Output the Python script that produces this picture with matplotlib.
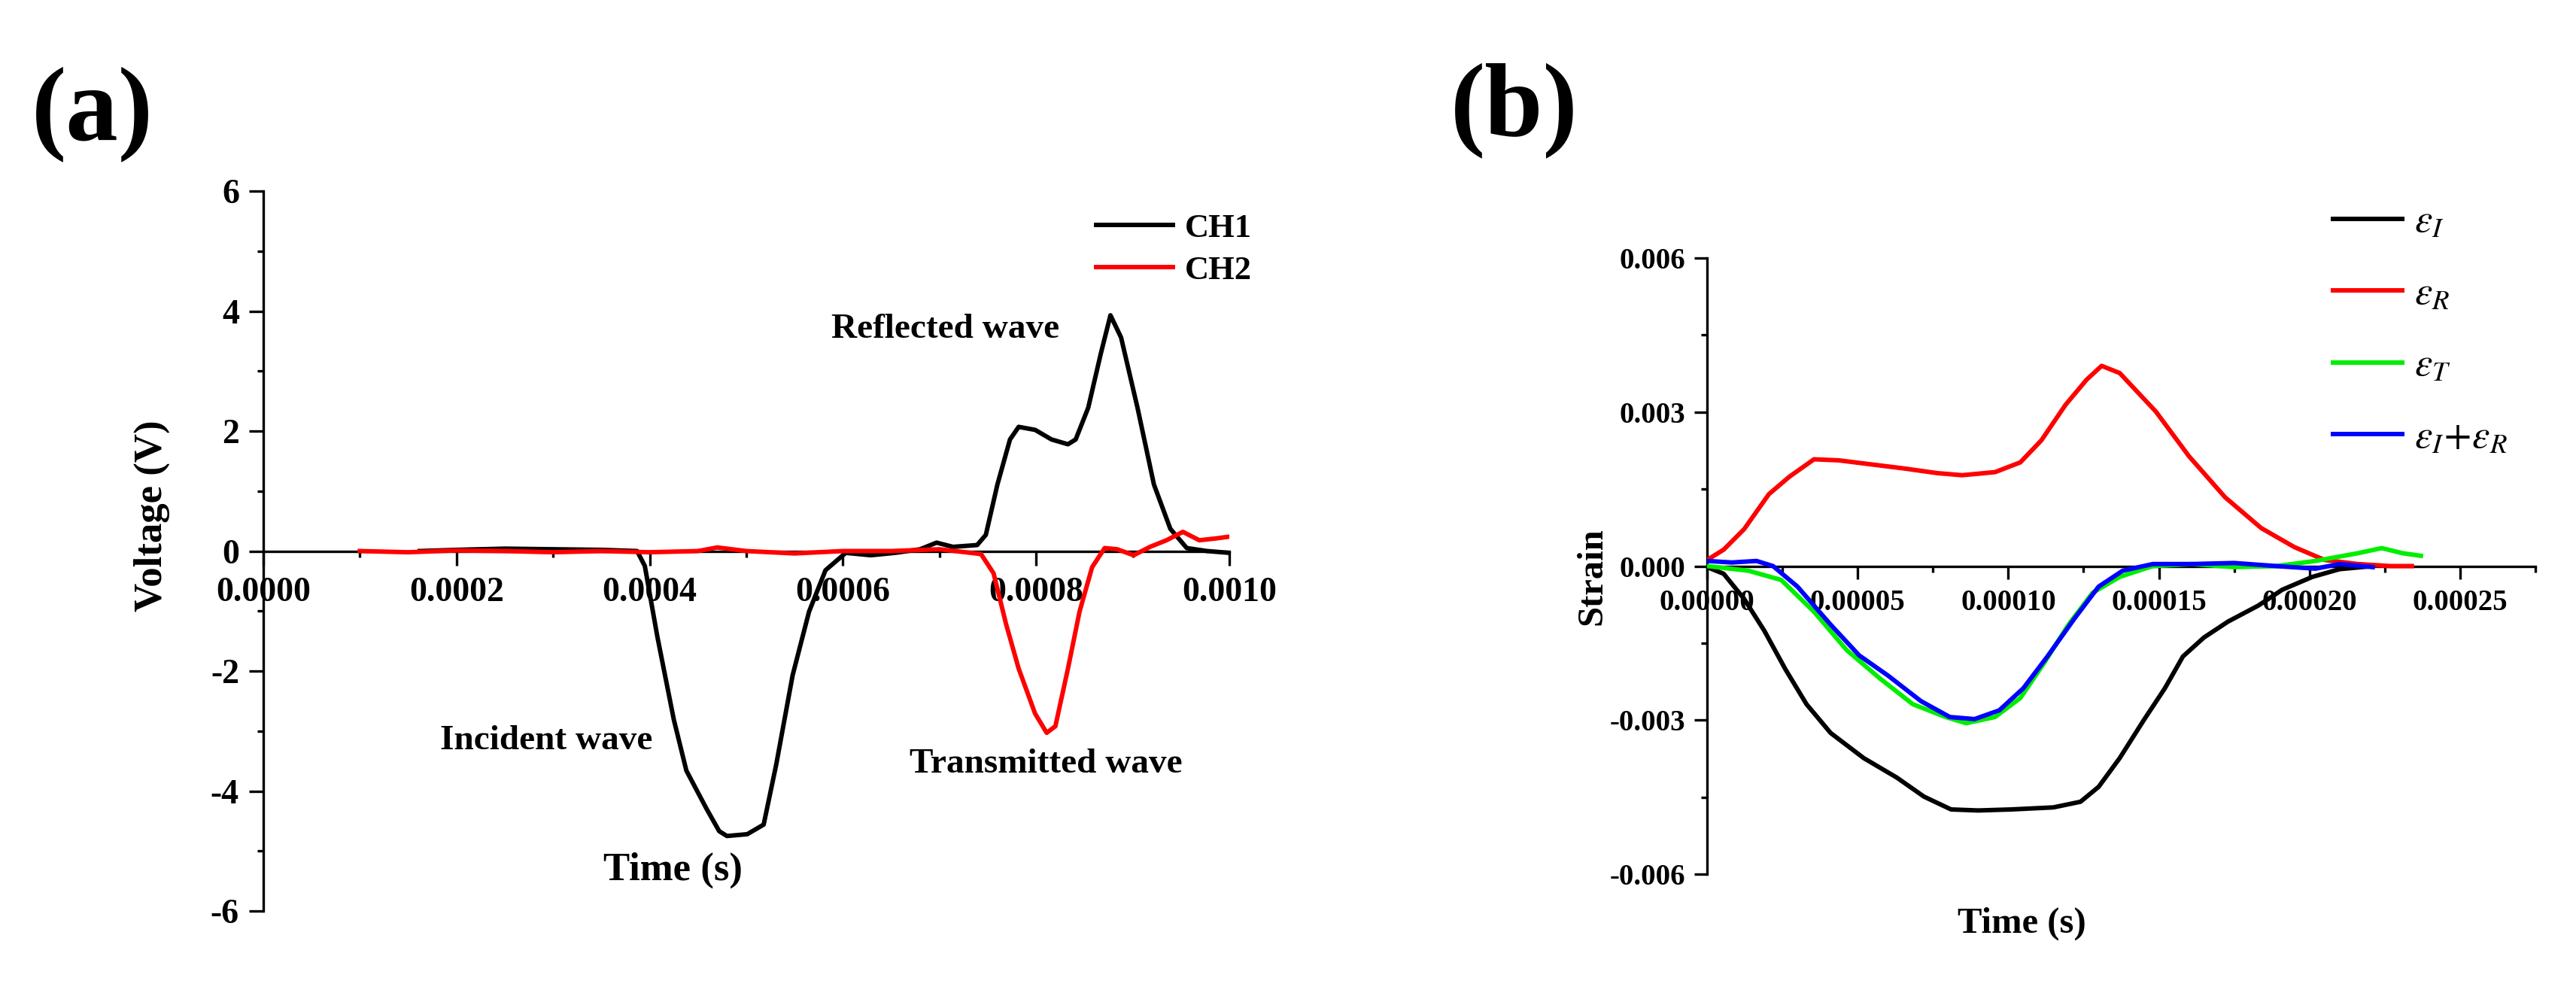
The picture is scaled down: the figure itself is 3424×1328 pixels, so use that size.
import numpy as np
import matplotlib
matplotlib.use('Agg')
import matplotlib.pyplot as plt
from matplotlib.ticker import MultipleLocator, FormatStrFormatter

# Panel (a): oscilloscope voltages
ch1_t = [0.000162, 0.00020, 0.00025, 0.00030, 0.00035, 0.000387, 0.000395, 0.000408, 0.000425,
         0.000438, 0.000459, 0.000472, 0.00048, 0.000501, 0.000518, 0.000531, 0.000548, 0.000565,
         0.000582, 0.000603, 0.000629, 0.000654, 0.00068, 0.000697, 0.000714, 0.000739, 0.000748,
         0.00076, 0.000773, 0.000782, 0.000799, 0.000816, 0.000833, 0.000841, 0.000854, 0.000867,
         0.000877, 0.000888, 0.000905, 0.000922, 0.000939, 0.000956, 0.000977, 0.001]
ch1_v = [0.0, 0.02, 0.04, 0.03, 0.02, 0.0, -0.25, -1.43, -2.81,
         -3.66, -4.30, -4.67, -4.75, -4.72, -4.56, -3.56, -2.07, -1.01,
         -0.32, -0.03, -0.07, -0.03, 0.03, 0.14, 0.07, 0.10, 0.27,
         1.11, 1.86, 2.07, 2.02, 1.86, 1.78, 1.86, 2.39, 3.29,
         3.93, 3.56, 2.39, 1.11, 0.37, 0.05, 0.0, -0.03]
ch2_t = [0.0001, 0.00015, 0.0002, 0.00025, 0.0003, 0.00035, 0.0004, 0.00045, 0.00047, 0.0005,
         0.00055, 0.0006, 0.00065, 0.0007, 0.000743, 0.000756, 0.000769, 0.000782, 0.000799,
         0.000811, 0.00082, 0.000833, 0.000845, 0.000858, 0.000871, 0.000884, 0.000901,
         0.000918, 0.000935, 0.000952, 0.000969, 0.000986, 0.001]
ch2_v = [0.0, -0.02, 0.01, 0.0, -0.02, 0.0, -0.02, 0.0, 0.06, 0.0,
         -0.04, 0.0, 0.0, 0.03, -0.05, -0.37, -1.22, -1.96, -2.71,
         -3.03, -2.92, -1.96, -1.01, -0.27, 0.05, 0.03, -0.07,
         0.07, 0.18, 0.32, 0.18, 0.21, 0.24]

# Panel (b): strain histories
epsI_t = [0, 5.5e-6, 1.23e-5, 1.9e-5, 2.6e-5, 3.3e-5, 4.1e-5, 5.2e-5, 6.3e-5, 7.2e-5, 8.1e-5,
          9.0e-5, 1.01e-4, 1.15e-4, 1.24e-4, 1.30e-4, 1.37e-4, 1.45e-4, 1.52e-4, 1.58e-4,
          1.65e-4, 1.73e-4, 1.83e-4, 1.91e-4, 2.01e-4, 2.10e-4, 2.21e-4]
epsI_v = [-0.00002, -0.00015, -0.00064, -0.00126, -0.00201, -0.00269, -0.00325, -0.00374,
          -0.00412, -0.00449, -0.00474, -0.00476, -0.00474, -0.0047, -0.00459, -0.0043,
          -0.00374, -0.003, -0.00238, -0.00176, -0.00139, -0.00108, -0.00077, -0.00046,
          -0.00021, -0.00006, 0.0]
epsR_t = [0, 5.5e-6, 1.23e-5, 2.05e-5, 2.73e-5, 3.55e-5, 4.37e-5, 5.46e-5, 6.56e-5, 7.65e-5,
          8.47e-5, 9.56e-5, 1.04e-4, 1.11e-4, 1.19e-4, 1.26e-4, 1.31e-4, 1.37e-4, 1.49e-4,
          1.60e-4, 1.72e-4, 1.84e-4, 1.95e-4, 2.05e-4, 2.16e-4, 2.27e-4, 2.34e-4]
epsR_v = [0.00012, 0.00032, 0.00072, 0.0014, 0.00174, 0.00208, 0.00206, 0.00198, 0.0019,
          0.00181, 0.00177, 0.00183, 0.00202, 0.00245, 0.00314, 0.00363, 0.0039, 0.00376,
          0.00301, 0.00214, 0.00134, 0.00074, 0.00037, 0.00012, 0.00004, 0.0, 0.0]
epsT_t = [0, 1.37e-5, 2.46e-5, 3.55e-5, 4.64e-5, 5.74e-5, 6.83e-5, 7.92e-5, 8.6e-5, 9.56e-5,
          1.04e-4, 1.12e-4, 1.20e-4, 1.28e-4, 1.37e-4, 1.48e-4, 1.61e-4, 1.75e-4, 1.89e-4,
          2.02e-4, 2.16e-4, 2.24e-4, 2.31e-4, 2.37e-4]
epsT_v = [0.0, -0.00009, -0.00027, -0.00089, -0.00164, -0.00219, -0.00269, -0.00294, -0.00306,
          -0.00294, -0.00257, -0.00188, -0.00114, -0.00052, -0.00021, 0.0, 0.00004, -0.00002,
          0.0, 0.0001, 0.00025, 0.00035, 0.00025, 0.0002]
epsIR_t = [0, 8.2e-6, 1.64e-5, 2.19e-5, 3.0e-5, 4.1e-5, 5.05e-5, 6.0e-5, 7.1e-5, 8.06e-5,
           8.88e-5, 9.7e-5, 1.05e-4, 1.13e-4, 1.22e-4, 1.30e-4, 1.38e-4, 1.48e-4, 1.61e-4,
           1.75e-4, 1.89e-4, 2.02e-4, 2.10e-4, 2.21e-4]
epsIR_v = [0.0001, 0.00007, 0.0001, 0.0, -0.0004, -0.00114, -0.00174, -0.00213, -0.00263,
           -0.00294, -0.00298, -0.00281, -0.00238, -0.00176, -0.00102, -0.0004, -0.00009,
           0.00004, 0.00004, 0.00006, 0.0, -0.00005, 0.00004, -0.00002]

plt.rcParams['font.family'] = ['Liberation Serif', 'DejaVu Serif']
plt.rcParams['mathtext.fontset'] = 'stix'

fig = plt.figure(figsize=(34.24, 13.28), dpi=100)
fig.patch.set_facecolor('white')

LW = 4.3

def style_axes(ax, tick_size, major_len, minor_len, xpad, ypad):
    for s in ['top', 'right']:
        ax.spines[s].set_visible(False)
    ax.spines['bottom'].set_position(('data', 0))
    for s in ['bottom', 'left']:
        ax.spines[s].set_linewidth(2.4)
    ax.tick_params(axis='both', which='major', direction='out', length=major_len, width=2.4,
                   labelsize=tick_size)
    ax.tick_params(axis='both', which='minor', direction='out', length=minor_len, width=2.4)
    ax.tick_params(axis='x', pad=xpad)
    ax.tick_params(axis='y', pad=ypad)
    for lab in ax.get_xticklabels() + ax.get_yticklabels():
        lab.set_fontweight('bold')

# ---- (a) ----
ax1 = fig.add_axes([0.1022, 0.0881, 0.375, 0.7206])
ax1.plot(ch1_t, ch1_v, color='black', lw=LW, label='CH1', zorder=3)
ax1.plot(ch2_t, ch2_v, color='#ff0000', lw=LW, label='CH2', zorder=3)
ax1.set_xlim(0, 0.001)
ax1.set_ylim(-6, 6)
ax1.xaxis.set_major_locator(MultipleLocator(0.0002))
ax1.xaxis.set_minor_locator(MultipleLocator(0.0001))
ax1.yaxis.set_major_locator(MultipleLocator(2))
ax1.yaxis.set_minor_locator(MultipleLocator(1))
ax1.xaxis.set_major_formatter(FormatStrFormatter('%.4f'))
ax1.yaxis.set_major_formatter(FormatStrFormatter('%d'))
style_axes(ax1, 33, 14, 6, 11, 9)

ax1.text(0.000706, 3.69, 'Reflected wave', fontsize=34, fontweight='bold', ha='center', va='center')
ax1.text(0.000293, -3.17, 'Incident wave', fontsize=34, fontweight='bold', ha='center', va='center')
ax1.text(0.00081, -3.56, 'Transmitted wave', fontsize=34, fontweight='bold', ha='center', va='center')
ax1.text(0.000424, -5.32, 'Time (s)', fontsize=38, fontweight='bold', ha='center', va='center')
fig.text(202 / 3424, 1 - 686 / 1328, 'Voltage (V)', fontsize=38, fontweight='bold',
         rotation=90, ha='center', va='center')

ax1.legend(loc='upper left', bbox_to_anchor=(0.4255, 0.7862), bbox_transform=fig.transFigure,
           frameon=False, borderpad=0, borderaxespad=0, handlelength=2.3, handletextpad=0.35,
           labelspacing=0.35, prop={'size': 32, 'weight': 'bold'})

fig.text(0.0123, 0.8848, '(a)', fontsize=100, fontweight='bold', ha='left', va='center')

# ---- (b) ----
ax2 = fig.add_axes([0.6627, 0.125, 0.3215, 0.6167])
ax2.plot(epsI_t, epsI_v, color='black', lw=LW, label=r'$\varepsilon_I$', zorder=3)
ax2.plot(epsR_t, epsR_v, color='#ff0000', lw=LW, label=r'$\varepsilon_R$', zorder=3)
ax2.plot(epsT_t, epsT_v, color='#00ee00', lw=LW, label=r'$\varepsilon_T$', zorder=3)
ax2.plot(epsIR_t, epsIR_v, color='#0000ff', lw=LW, label=r'$\varepsilon_I\!+\!\varepsilon_R$', zorder=3)
ax2.set_xlim(0, 0.000275)
ax2.set_ylim(-0.006, 0.006)
ax2.xaxis.set_major_locator(MultipleLocator(0.00005))
ax2.xaxis.set_minor_locator(MultipleLocator(0.000025))
ax2.yaxis.set_major_locator(MultipleLocator(0.003))
ax2.yaxis.set_minor_locator(MultipleLocator(0.0015))
ax2.xaxis.set_major_formatter(FormatStrFormatter('%.5f'))
ax2.yaxis.set_major_formatter(FormatStrFormatter('%.3f'))
style_axes(ax2, 28, 12, 6, 10, 9)

fig.text(2116 / 3424, 1 - 766 / 1328, 'Strain', fontsize=35, fontweight='bold',
         rotation=90, ha='center', va='center')
fig.text(2687 / 3424, 1 - 1228 / 1328, 'Time (s)', fontsize=35, fontweight='bold',
         ha='center', va='center')

ax2.legend(loc='upper left', bbox_to_anchor=(0.9057, 0.795), bbox_transform=fig.transFigure,
           frameon=False, borderpad=0, borderaxespad=0, handlelength=1.75, handletextpad=0.3,
           labelspacing=0.9, prop={'size': 38})

fig.text(0.5631, 0.889, '(b)', fontsize=100, fontweight='bold', ha='left', va='center')

fig.savefig('out.png', dpi=100, facecolor='white')
